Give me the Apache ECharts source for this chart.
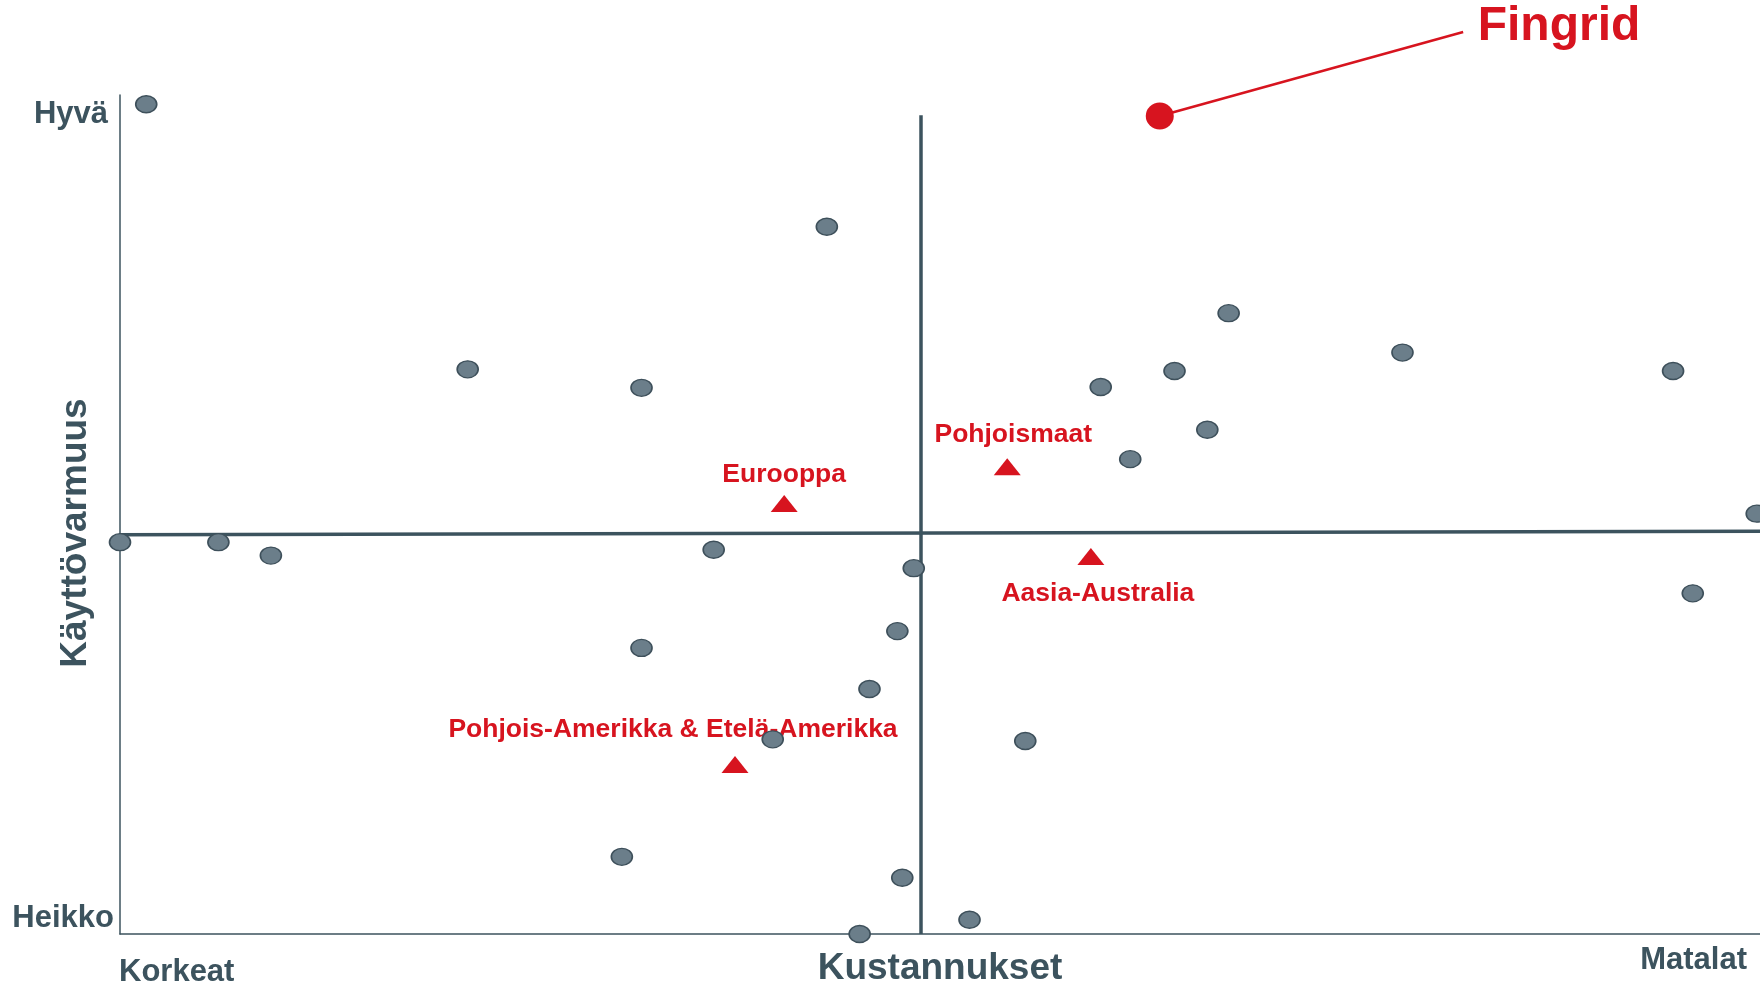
<!DOCTYPE html>
<html>
<head>
<meta charset="utf-8">
<script src="https://cdn.jsdelivr.net/npm/echarts@6/dist/echarts.min.js"></script>
<style>
html,body{margin:0;padding:0;background:#fff}
#main{width:1760px;height:987px}
</style>
</head>
<body>
<div id="main"></div>
<script>
// x = kustannukset (0 korkeat .. 100 matalat), y = käyttövarmuus (0 heikko .. 100 hyvä)
var companyX = [1.6, 43.1, 21.2, 31.8, 67.6, 78.2, 94.7, 59.8, 64.3, 66.3, 61.6, 99.8, 0, 6.0, 9.2, 36.2, 48.4, 47.4, 31.8, 45.7, 39.8, 55.2, 95.9, 30.6, 47.7, 45.1, 51.8];
var companyY = [98.9, 84.3, 67.3, 65.1, 74.0, 69.3, 67.1, 65.2, 67.1, 60.1, 56.6, 50.1, 46.7, 46.7, 45.1, 45.8, 43.6, 36.1, 34.1, 29.2, 23.2, 23.0, 40.6, 9.2, 6.7, 0, 1.7];

var regionNames = ['Eurooppa', 'Pohjoismaat', 'Aasia-Australia', 'Pohjois-Amerikka & Etelä-Amerikka'];
var regionX = [40.5, 54.1, 59.2, 37.5];
var regionY = [51.3, 55.7, 45.0, 20.2];

var fingridName = 'Fingrid';
var fingridXY = [63.4, 97.5];
var fingridLabelAt = [81.9, 107.5]; // viittausviivan pää

// keskiviivat (ristikko)
var midX = 48.84;
var midY = [47.6, 48.0];

var dark = '#3c535e';
var red = '#d7141f';
var font = 'Liberation Sans, Arial, sans-serif';

// label placement per region (style only)
var regionLabelPos = [
  {position: 'top', distance: 7, offset: [0, 0]},
  {position: 'top', distance: 10, offset: [6, 0]},
  {position: 'bottom', distance: 15, offset: [7, 0]},
  {position: 'top', distance: 13, offset: [-62, 0]}
];

var companies = [];
for (var i = 0; i < companyX.length; i++) {
  companies.push([companyX[i], companyY[i]]);
}
var regions = [];
for (var j = 0; j < regionNames.length; j++) {
  regions.push({
    name: regionNames[j],
    value: [regionX[j], regionY[j]],
    label: regionLabelPos[j]
  });
}

var ellipse = 'path://M0,50a50,50 0 1,0 100,0a50,50 0 1,0 -100,0';

var myChart = echarts.init(document.getElementById('main'));
var option = {
  animation: false,
  grid: {left: 120, right: 0, top: 95, bottom: 53, outerBoundsMode: 'none'},
  xAxis: {
    type: 'value', min: 0, max: 100,
    name: 'Kustannukset', nameLocation: 'middle', nameGap: 16,
    nameTextStyle: {color: dark, fontSize: 37, fontWeight: 'bold', fontFamily: font},
    axisLine: {onZero: false, lineStyle: {color: dark, width: 1.5}},
    axisTick: {show: false}, axisLabel: {show: false}, splitLine: {show: false}
  },
  yAxis: {
    type: 'value', min: 0, max: 100,
    axisLine: {show: true, onZero: false, lineStyle: {color: dark, width: 1.5}},
    axisTick: {show: false}, axisLabel: {show: false}, splitLine: {show: false}
  },
  graphic: [
    {type: 'text', x: 108, y: 114, style: {text: 'Hyvä', fill: dark, fontSize: 31, fontWeight: 'bold', fontFamily: font, align: 'right', verticalAlign: 'middle'}},
    {type: 'text', x: 114, y: 918, style: {text: 'Heikko', fill: dark, fontSize: 31, fontWeight: 'bold', fontFamily: font, align: 'right', verticalAlign: 'middle'}},
    {type: 'text', x: 119, y: 972, style: {text: 'Korkeat', fill: dark, fontSize: 31, fontWeight: 'bold', fontFamily: font, align: 'left', verticalAlign: 'middle'}},
    {type: 'text', x: 1747, y: 960, style: {text: 'Matalat', fill: dark, fontSize: 31, fontWeight: 'bold', fontFamily: font, align: 'right', verticalAlign: 'middle'}},
    {type: 'text', x: 76, y: 533, rotation: Math.PI / 2, style: {text: 'Käyttövarmuus', fill: dark, fontSize: 37, fontWeight: 'bold', fontFamily: font, align: 'center', verticalAlign: 'middle'}}
  ],
  series: [
    {
      type: 'line', data: [], z: 1, silent: true,
      markLine: {
        silent: true, symbol: 'none', label: {show: false},
        lineStyle: {color: dark, width: 3.5, type: 'solid'},
        data: [
          [{coord: [midX, 0]}, {coord: [midX, 97.6]}],
          [{coord: [0, midY[0]]}, {coord: [100, midY[1]]}]
        ]
      }
    },
    {
      name: 'Alueet', type: 'scatter', z: 3, data: regions,
      symbol: 'triangle', symbolSize: [27, 17],
      itemStyle: {color: red, opacity: 1},
      label: {show: true, formatter: '{b}', color: red, fontSize: 26.5, fontWeight: 'bold', fontFamily: font}
    },
    {
      name: 'Yhtiöt', type: 'scatter', z: 5, data: companies,
      symbol: ellipse, symbolSize: [21, 17],
      itemStyle: {color: '#6b7e8a', borderColor: '#3e505b', borderWidth: 1.5, opacity: 1}
    },
    {
      // viittausviiva Fingrid-pisteestä nimeen
      type: 'line', z: 6, clip: false, silent: true,
      symbol: 'circle', symbolSize: 1,
      itemStyle: {color: 'rgba(0,0,0,0)'},
      lineStyle: {color: red, width: 2.5},
      data: [
        fingridXY,
        {
          value: fingridLabelAt,
          label: {
            show: true, formatter: fingridName, position: 'right', distance: 14, offset: [0, -5],
            color: red, fontSize: 48, fontWeight: 'bold', fontFamily: font
          }
        }
      ]
    },
    {
      name: fingridName, type: 'scatter', z: 7,
      data: [fingridXY],
      symbol: ellipse, symbolSize: [28, 27],
      itemStyle: {color: red, opacity: 1}
    }
  ]
};
myChart.setOption(option);
</script>
</body>
</html>
